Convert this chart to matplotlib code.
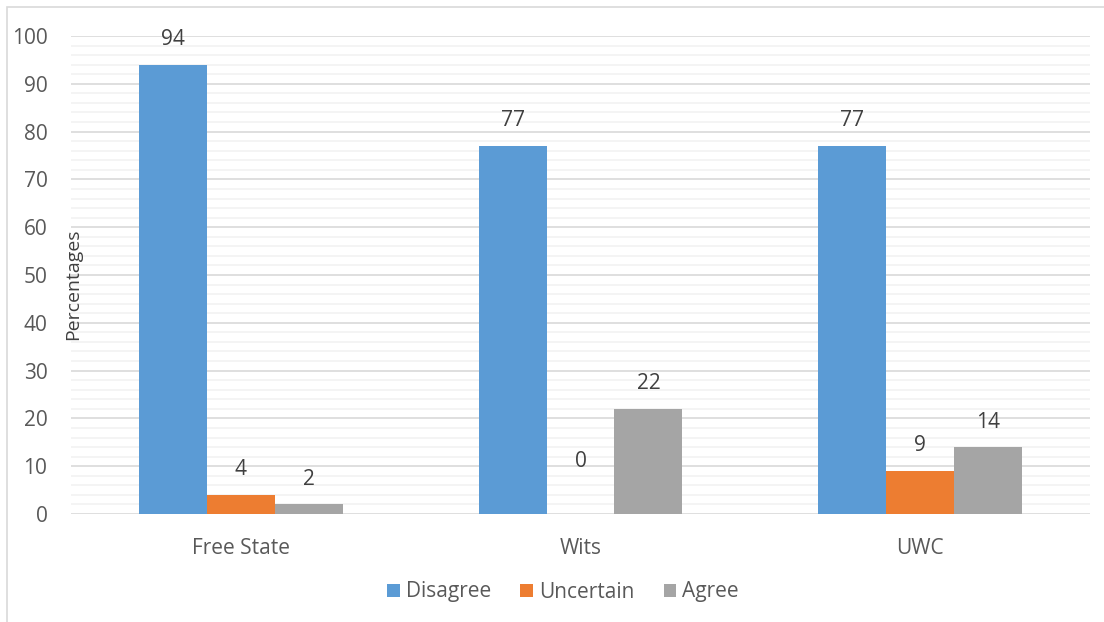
import matplotlib
matplotlib.use("Agg")
import matplotlib.pyplot as plt
import numpy as np
from matplotlib.patches import Rectangle

categories = ["Free State", "Wits", "UWC"]
series_names = ["Disagree", "Uncertain", "Agree"]
disagree = [94, 77, 77]
uncertain = [4, 0, 9]
agree = [2, 22, 14]
yticks = [0, 10, 20, 30, 40, 50, 60, 70, 80, 90, 100]

colors = ["#5B9BD5", "#ED7D31", "#A5A5A5"]
text_color = "#595959"
plt.rcParams['font.family'] = ['Open Sans', 'DejaVu Sans']

fig = plt.figure(figsize=(11.04, 6.22), dpi=100)
ax = fig.add_axes([71/1104, 1 - 514/622, (1090-71)/1104, (514-36)/622 * 1.0])
# frame lines (top/left border of chart area)
fig.patches.append(Rectangle((7/1104, -0.1), 1.2, (1 - 7/622) + 0.1, transform=fig.transFigure,
                             fill=False, edgecolor="#D9D9D9", linewidth=1.2))

x = np.arange(len(categories))
w = 0.2
all_series = [disagree, uncertain, agree]
for i, (vals, c, name) in enumerate(zip(all_series, colors, series_names)):
    pos = x + (i - 1) * w
    ax.bar(pos, vals, width=w, color=c, label=name, zorder=3)
    for p, v in zip(pos, vals):
        off = 38 if v == 0 else 18
        ax.annotate(str(v), (p, v), xytext=(0, off), textcoords="offset points",
                    ha="center", va="center", fontsize=15, color="#404040")

ax.set_xlim(-0.5, 2.5)
ax.set_ylim(0, 100)
ax.set_yticks(yticks)
ax.set_yticks(np.arange(0, 101, 2), minor=True)
ax.grid(axis="y", which="minor", color="#F2F2F2", linewidth=1.2, zorder=0)
ax.grid(axis="y", which="major", color="#D9D9D9", linewidth=1.2, zorder=1)
ax.set_xticks(x)
ax.set_xticklabels(categories)
for s in ax.spines.values():
    s.set_visible(False)
ax.tick_params(axis="both", which="both", length=0, labelsize=15, labelcolor=text_color)
ax.tick_params(axis="y", pad=17)
ax.tick_params(axis="x", pad=17)
ax.text(0.002, 0.48, "Percentages", rotation=90, transform=ax.transAxes, ha="center", va="center",
        fontsize=14, color="#404040")

leg = fig.legend(loc="center", bbox_to_anchor=(563/1104, 1 - 592/622), ncol=3, frameon=False,
                 fontsize=15, handlelength=0.6, handleheight=0.6, handletextpad=0.3, columnspacing=1.4)
for t in leg.get_texts():
    t.set_color(text_color)

fig.savefig("out.png", dpi=100)
